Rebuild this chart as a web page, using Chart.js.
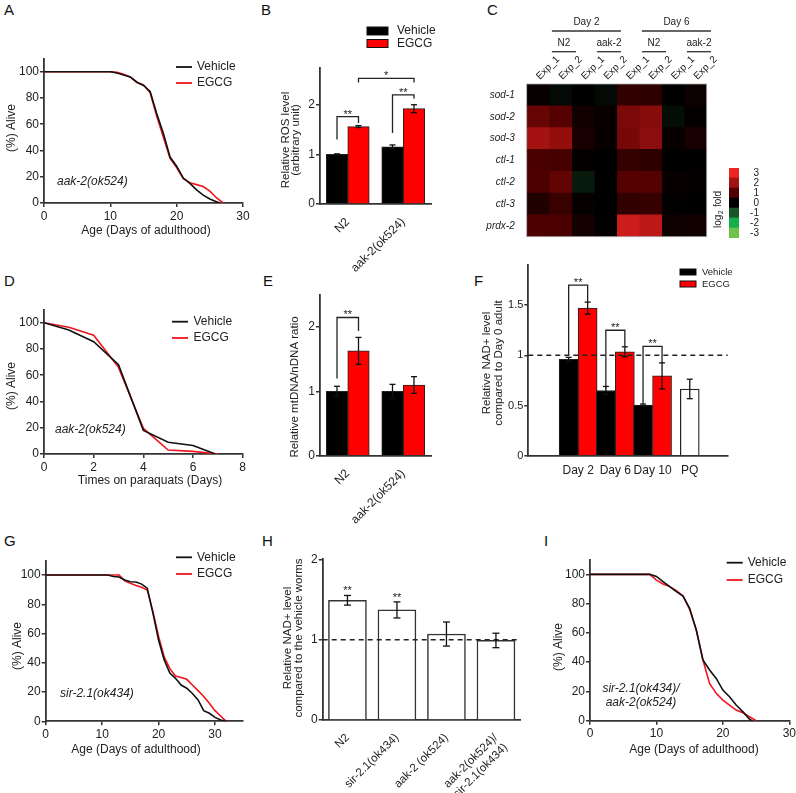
<!DOCTYPE html>
<html><head><meta charset="utf-8">
<script src="https://cdn.jsdelivr.net/npm/chart.js@4.4.1/dist/chart.umd.min.js"></script>
<style>
html,body{margin:0;padding:0;background:#fff;width:796px;height:793px;overflow:hidden}
canvas{position:absolute;left:0;top:0}
.lt{position:absolute;font:15px "Liberation Sans",Arial,sans-serif;color:#111;line-height:15px}
</style></head><body>
<div class="lt" style="left:4px;top:2px">A</div>
<div class="lt" style="left:261px;top:2px">B</div>
<div class="lt" style="left:487px;top:2px">C</div>
<div class="lt" style="left:4px;top:273px">D</div>
<div class="lt" style="left:263px;top:273px">E</div>
<div class="lt" style="left:474px;top:273px">F</div>
<div class="lt" style="left:4px;top:533px">G</div>
<div class="lt" style="left:262px;top:533px">H</div>
<div class="lt" style="left:544px;top:533px">I</div>
<canvas id="cA" width="796" height="793"></canvas>
<canvas id="cB" width="796" height="793"></canvas>
<canvas id="cC" width="796" height="793"></canvas>
<canvas id="cCb" width="796" height="793"></canvas>
<canvas id="cD" width="796" height="793"></canvas>
<canvas id="cE" width="796" height="793"></canvas>
<canvas id="cF" width="796" height="793"></canvas>
<canvas id="cG" width="796" height="793"></canvas>
<canvas id="cH" width="796" height="793"></canvas>
<canvas id="cI" width="796" height="793"></canvas>
<script>
// ================= DATA =================
// A: lifespan aak-2(ok524)
const aVehDays   = [0,10,11,12,13,14,15,16,17,18,19,20,21,22,23,24,25,26,26.5];
const aVehAlive  = [100,100,99,97.5,96,92,89.5,85,68,53,35,28,19,15,10,6,3,1,0];
const aEgcgDays  = [0,10,11,12,13,14,15,16,17,18,19,20,21,22,23,24,25,26,27];
const aEgcgAlive = [100,100,99.5,98,96,92,90,84,66,50,34,27,18.5,15.5,14,12.5,9,4,0];
const survYTicks = [0,20,40,60,80,100];
const ageTicks = [0,10,20,30];

// B: ROS level
const bCats = ['N2','aak-2(ok524)'];
const bVehicle = [1.00, 1.15];
const bVehicleErr = [0.01, 0.04];
const bEgcg = [1.56, 1.92];
const bEgcgErr = [0.02, 0.08];
const bYTicks = [0,1,2];
const bBrackets = [
  {d1:0,c1:0,d2:1,c2:0,top:1.76,left:1.3,right:1.63,star:'**'},
  {d1:0,c1:1,d2:1,c2:1,top:2.2,left:1.43,right:2.12,star:'**'},
  {d1:1,c1:0,d2:1,c2:1,top:2.53,left:2.45,right:2.45,star:'*'}
];

// C: heatmap log2 fold
const genes = ['sod-1','sod-2','sod-3','ctl-1','ctl-2','ctl-3','prdx-2'];
const expCols = ['Exp_1','Exp_2','Exp_1','Exp_2','Exp_1','Exp_2','Exp_1','Exp_2'];
const strainGroups = ['N2','aak-2','N2','aak-2'];
const dayGroups = ['Day 2','Day 6'];
const sod1  = [0.1,-0.1,0.0,-0.1,0.6,0.55,0.0,0.15];
const sod2  = [1.25,1.05,0.2,0.1,1.5,1.65,-0.15,0.05];
const sod3  = [2.0,1.8,0.3,0.1,1.45,1.7,0.1,0.3];
const ctl1  = [0.9,0.85,0.05,0.0,0.65,0.55,0.0,0.0];
const ctl2  = [0.95,1.2,-0.3,0.0,1.05,1.05,0.1,0.05];
const ctl3  = [0.4,0.7,0.08,0.0,0.6,0.65,0.02,0.0];
const prdx2 = [0.95,0.9,0.25,0.02,2.55,2.35,0.15,0.2];
const colorbarVals = [3,2,1,0,-1,-2,-3];

// D: paraquat survival
const dVehDays   = [0,1,2,3,4,5,6,6.9];
const dVehAlive  = [100,94.5,85.5,68,18,9,6.5,0];
const dEgcgDays  = [0,1,2,3,4,5,6,7];
const dEgcgAlive = [100,96.5,90.5,66,19.5,3,2,0];
const pqTicks = [0,2,4,6,8];

// E: mtDNA/nDNA
const eCats = ['N2','aak-2(ok524)'];
const eVehicle = [1.0, 1.0];
const eVehicleErr = [0.08, 0.11];
const eEgcg = [1.63, 1.1];
const eEgcgErr = [0.21, 0.13];
const eYTicks = [0,1,2];
const eBrackets = [{d1:0,c1:0,d2:1,c2:0,top:2.15,left:1.2,right:1.94,star:'**'}];

// F: NAD+ vs Day 0
const fCats = ['Day 2','Day 6','Day 10','PQ'];
const fPos = [0,1,2,3];
const fVehicle = [0.96,0.65,0.505,null];
const fVehicleErr = [0.02,0.04,0.01,null];
const fEgcg = [1.47,1.035,0.795,null];
const fEgcgErr = [0.06,0.05,0.13,null];
const fPQ = [null,null,null,0.665];
const fPQErr = [null,null,null,0.097];
const fYTicks = [0,0.5,1,1.5];
const fBrackets = [
  {d1:0,c1:0,d2:1,c2:0,top:1.70,left:1.0,right:1.53,star:'**'},
  {d1:0,c1:1,d2:1,c2:1,top:1.25,left:0.67,right:1.09,star:'**'},
  {d1:0,c1:2,d2:1,c2:2,top:1.09,left:0.52,right:0.92,star:'**'}
];

// G: lifespan sir-2.1(ok434)
const gVehDays   = [0,11,12,13,14,15,16,17,18,19,20,21,22,23,24,25,26,27,28,29,30,31,32];
const gVehAlive  = [100,100,99,98.6,96.6,95.4,95.2,93.8,91,74,55.6,42,33,29.4,24.8,22.6,19,14.6,7.3,5.5,2.7,0.9,0];
const gEgcgDays  = [0,13,14,15,16,17,18,19,20,21,22,23,24,25,26,27,28,29,30,31,32];
const gEgcgAlive = [100,100,96,94.3,92.9,91.6,89.7,75,58,44,36,31,30,28.7,24.8,21,17,12.3,7.3,3.6,0];
const gAgeTicks = [0,10,20,30];

// H: NAD+ vs vehicle
const hCats = ['N2','sir-2.1(ok434)','aak-2 (ok524)',['aak-2(ok524)/','sir-2.1(ok434)']];
const hRatio = [1.49,1.37,1.07,0.99];
const hRatioErr = [0.06,0.1,0.15,0.09];
const hStars = ['**','**','',''];
const hYTicks = [0,1,2];

// I: lifespan double mutant
const iVehDays   = [0,9,10,11,12,13,14,15,16,17,18,19,20,21,22,23,24,24.4];
const iVehAlive  = [100,100,98.6,95,91.6,88.2,85.2,76.8,62,41.5,34.6,28.9,20.9,16.4,10.7,6.2,1,0];
const iEgcgDays  = [0,9,10,11,12,13,14,15,16,17,18,19,20,21,22,23,24,25];
const iEgcgAlive = [100,100,96,93.4,91.6,88.8,85.2,76,62,41.5,25.5,18.7,14.1,10.7,7.3,5.5,2.7,0];

// ================= HELPERS =================
const FONT = '"Liberation Sans", Arial, Helvetica, sans-serif';
const AX = '#333', TXT = '#222', RED = '#ff0000', LRED = '#f0141e';
const PW = 796, PH = 793;
Chart.defaults.font.family = FONT;
Chart.defaults.color = TXT;

function pad(r, wy, hx, wyr) {
  return {left: r.L - wy, top: r.T, right: PW - r.R - (wyr || 0), bottom: PH - r.B - hx};
}
function yLin(min, max, ticks, size, wy) {
  return {type:'linear', min, max,
    afterBuildTicks: s => { s.ticks = ticks.map(v => ({value: v})); },
    afterFit: s => { s.width = wy || 40; s.paddingTop = 0; s.paddingBottom = 0; },
    border: {display:true, color:AX, width:1.8},
    grid: {display:true, drawOnChartArea:false, drawTicks:true, tickLength:4, color:AX, lineWidth:1.5},
    ticks: {font:{size:size || 12}, color:TXT, padding:1, autoSkip:false, callback: v => String(v)}};
}
function xLin(min, max, ticks, o) {
  o = o || {};
  return {type:'linear', min, max,
    afterBuildTicks: s => { s.ticks = ticks.map(v => ({value: v})); },
    afterFit: s => { s.height = o.h || 24; s.paddingLeft = 0; s.paddingRight = 0; },
    border: {display:true, color:AX, width:1.8},
    grid: {display: !o.noTicks, drawOnChartArea:false, drawTicks:true, tickLength:4, color:AX, lineWidth:1.5},
    ticks: {font:{size:o.size || 12}, color:TXT, padding:o.padding || 2, maxRotation:0, minRotation:0, autoSkip:false,
      callback: o.cb || (v => String(v))}};
}
function xCat(rot, size, h) {
  return {type:'category',
    afterFit: s => { s.height = h; s.paddingLeft = 0; s.paddingRight = 0; },
    border: {display:true, color:AX, width:1.8},
    grid: {display:false},
    ticks: {font:{size:size || 12}, color:TXT, padding:3, minRotation:rot, maxRotation:rot, autoSkip:false}};
}
function opts(padding, scales, extra) {
  return Object.assign({responsive:false, animation:false, events:[], layout:{padding}, scales,
    plugins:{legend:{display:false}, tooltip:{enabled:false}}}, extra || {});
}
function txt(ctx, s, x, y, o) {
  o = o || {};
  ctx.save();
  ctx.font = (o.italic ? 'italic ' : '') + (o.size || 12) + 'px ' + FONT;
  ctx.fillStyle = o.color || TXT;
  ctx.textAlign = o.align || 'left';
  ctx.textBaseline = o.base || 'middle';
  ctx.translate(x, y);
  if (o.rot) ctx.rotate(o.rot);
  ctx.fillText(s, 0, 0);
  ctx.restore();
}
function seg(ctx, x1, y1, x2, y2, color, w, dash) {
  ctx.save(); ctx.strokeStyle = color || '#222'; ctx.lineWidth = w || 1.2;
  if (dash) ctx.setLineDash(dash);
  ctx.beginPath(); ctx.moveTo(x1, y1); ctx.lineTo(x2, y2); ctx.stroke(); ctx.restore();
}
function vtitle(ctx, s, x, y, size) { txt(ctx, s, x, y, {size: size || 12, align:'center', rot:-Math.PI/2}); }
function legLine(ctx, x1, x2, y, color, label, tx) { seg(ctx, x1, y, x2, y, color, 1.8); txt(ctx, label, tx, y, {size:12}); }
function legBox(ctx, x, y, w, h, color, label, tx, size) {
  ctx.save(); ctx.fillStyle = color; ctx.fillRect(x, y, w, h);
  ctx.strokeStyle = '#111'; ctx.lineWidth = 1; ctx.strokeRect(x, y, w, h); ctx.restore();
  txt(ctx, label, tx, y + h / 2, {size: size});
}
function valOf(d) { return (d && typeof d === 'object') ? d.y : d; }
function drawErr(chart, di, errs, cap) {
  const meta = chart.getDatasetMeta(di), ys = chart.scales.y, ctx = chart.ctx;
  const vals = chart.data.datasets[di].data;
  errs.forEach((e, j) => {
    const v = valOf(vals[j]);
    if (v == null || e == null) return;
    const x = meta.data[j].x, y1 = ys.getPixelForValue(v + e), y2 = ys.getPixelForValue(v - e);
    seg(ctx, x, y1, x, y2, '#111', 1.3);
    seg(ctx, x - cap, y1, x + cap, y1, '#111', 1.3);
    seg(ctx, x - cap, y2, x + cap, y2, '#111', 1.3);
  });
}
function drawBracket(chart, b) {
  const ys = chart.scales.y, ctx = chart.ctx;
  const x1 = chart.getDatasetMeta(b.d1).data[b.c1].x, x2 = chart.getDatasetMeta(b.d2).data[b.c2].x;
  const yt = ys.getPixelForValue(b.top), yl = ys.getPixelForValue(b.left), yr = ys.getPixelForValue(b.right);
  ctx.save(); ctx.strokeStyle = '#222'; ctx.lineWidth = 1.3;
  ctx.beginPath(); ctx.moveTo(x1, yl); ctx.lineTo(x1, yt); ctx.lineTo(x2, yt); ctx.lineTo(x2, yr); ctx.stroke(); ctx.restore();
  txt(ctx, b.star, (x1 + x2) / 2, yt + 1, {size:11, align:'center', base:'alphabetic'});
}
function pts(xs, ys) { return xs.map((x, i) => ({x, y: ys[i]})); }
function mkSurv(id, r, xmax, xticks, vx, vy, ex, ey, deco) {
  return new Chart(document.getElementById(id), {type:'line',
    data:{datasets:[
      {data: pts(vx, vy), borderColor:'#111', borderWidth:1.6, pointRadius:0, tension:0, fill:false},
      {data: pts(ex, ey), borderColor:LRED, borderWidth:1.6, pointRadius:0, tension:0, fill:false}]},
    options: opts(pad(r, 40, 24), {x: xLin(0, xmax, xticks), y: yLin(0, 110, survYTicks)}),
    plugins:[{id:'deco', afterDraw: c => deco(c, c.ctx)}]});
}
function mkPairBars(id, r, cats, veh, vehErr, egcg, egcgErr, ymax, yticks, thick, brackets, deco) {
  return new Chart(document.getElementById(id), {type:'bar',
    data:{labels:cats, datasets:[
      {data: veh, backgroundColor:'#000', borderColor:'#222', borderWidth:1, barThickness:thick},
      {data: egcg, backgroundColor:RED, borderColor:'#222', borderWidth:1, barThickness:thick}]},
    options: opts(pad(r, 40, 90), {x: xCat(45, 12, 90), y: yLin(0, ymax, yticks)}),
    plugins:[{id:'deco', afterDraw: c => {
      drawErr(c, 0, vehErr, 3); drawErr(c, 1, egcgErr, 3);
      brackets.forEach(b => drawBracket(c, b));
      deco(c, c.ctx);
    }}]});
}

// ================= PANEL A =================
mkSurv('cA', {L:44, T:58.6, R:243, B:203}, 30, ageTicks, aVehDays, aVehAlive, aEgcgDays, aEgcgAlive, (c, ctx) => {
  legLine(ctx, 176, 192, 67, '#111', 'Vehicle', 197);
  legLine(ctx, 176, 192, 83, LRED, 'EGCG', 197);
  txt(ctx, 'aak-2(ok524)', 57, 182, {italic:true});
  vtitle(ctx, '(%) Alive', 12, 128);
  txt(ctx, 'Age (Days of adulthood)', 146, 231, {align:'center'});
});

// ================= PANEL B =================
mkPairBars('cB', {L:320, T:68, R:431, B:204}, bCats, bVehicle, bVehicleErr, bEgcg, bEgcgErr, 2.74, bYTicks, 21.5, bBrackets, (c, ctx) => {
  legBox(ctx, 367, 27, 21, 8, '#000', 'Vehicle', 397, 12);
  legBox(ctx, 367, 39.5, 21, 8, RED, 'EGCG', 397, 12);
  vtitle(ctx, 'Relative ROS level', 286, 140, 11.5);
  vtitle(ctx, '(arbitrary unit)', 296, 140, 11.5);
});

// ================= PANEL C (heatmap) =================
const heat = [sod1, sod2, sod3, ctl1, ctl2, ctl3, prdx2];
function heatColor(v) {
  if (v >= 0) {
    const r = v <= 2 ? 82 * v : 164 + 72 * (v - 2);
    const gb = Math.max(0, v - 1) * 18;
    return 'rgb(' + Math.round(Math.min(r, 245)) + ',' + Math.round(gb) + ',' + Math.round(gb) + ')';
  }
  const a = -v;
  let c;
  if (a <= 1) c = [25 * a, 85 * a, 40 * a];
  else if (a <= 2) c = [25 - 5 * (a - 1), 85 + 90 * (a - 1), 40 + 35 * (a - 1)];
  else c = [20 + 90 * (a - 2), 175 + 20 * (a - 2), 75];
  return 'rgb(' + c.map(Math.round).join(',') + ')';
}
const hmRect = {L:526.7, T:84, R:706.7, B:236.7};
new Chart(document.getElementById('cC'), {type:'bar',
  data:{labels: genes, datasets: expCols.map((col, j) => ({
    data: genes.map(() => 1),
    backgroundColor: heat.map(row => heatColor(row[j])),
    borderWidth:0, barPercentage:1, categoryPercentage:1}))},
  options: opts(pad(hmRect, 60, 0), {
    x:{type:'linear', stacked:true, min:0, max:8, display:false},
    y:{type:'category', stacked:true, offset:true, grid:{display:false}, border:{display:false},
       afterFit: s => { s.width = 60; s.paddingTop = 0; s.paddingBottom = 0; },
       ticks:{font:{size:10, style:'italic'}, color:TXT, padding:4, autoSkip:false}}
  }, {indexAxis:'y'}),
  plugins:[{id:'deco', afterDraw: c => {
    const ctx = c.ctx, xs = c.scales.x, a = c.chartArea;
    ctx.save(); ctx.strokeStyle = '#aaa'; ctx.lineWidth = 0.8; ctx.strokeRect(a.left, a.top, a.right - a.left, a.bottom - a.top); ctx.restore();
    expCols.forEach((s, j) => txt(ctx, s, xs.getPixelForValue(j + 0.5), a.top - 6, {size:10, rot:-Math.PI/4}));
    strainGroups.forEach((g, k) => {
      const x1 = xs.getPixelForValue(2 * k + 1.12), x2 = xs.getPixelForValue(2 * k + 2.19);
      seg(ctx, x1, 51.7, x2, 51.7, '#333', 1.3);
      txt(ctx, g, (x1 + x2) / 2, 43, {size:10, align:'center'});
    });
    dayGroups.forEach((g, k) => {
      const x1 = xs.getPixelForValue(4 * k + 1.12), x2 = xs.getPixelForValue(4 * k + 4.19);
      seg(ctx, x1, 31, x2, 31, '#333', 1.3);
      txt(ctx, g, (x1 + x2) / 2, 22.5, {size:10, align:'center'});
    });
  }}]});
// colorbar
const cbRect = {L:729, T:168, R:739, B:238};
new Chart(document.getElementById('cCb'), {type:'bar',
  data:{labels: colorbarVals.map(String), datasets:[{data: colorbarVals.map(() => 1),
    backgroundColor: colorbarVals.map(heatColor), borderWidth:0, barPercentage:1, categoryPercentage:1}]},
  options: opts({left: cbRect.L, top: cbRect.T, right: PW - cbRect.R - 20, bottom: PH - cbRect.B}, {
    x:{type:'linear', min:0, max:1, display:false},
    y:{type:'category', position:'right', offset:true, grid:{display:false}, border:{display:false},
       afterFit: s => { s.width = 20; s.paddingTop = 0; s.paddingBottom = 0; },
       ticks:{font:{size:10}, color:TXT, padding:1.5, crossAlign:'far', autoSkip:false}}
  }, {indexAxis:'y'}),
  plugins:[{id:'deco', afterDraw: c => {
    const ctx = c.ctx;
    ctx.save(); ctx.translate(718.5, 228); ctx.rotate(-Math.PI / 2);
    ctx.fillStyle = TXT; ctx.textBaseline = 'middle'; ctx.textAlign = 'left';
    ctx.font = '10px ' + FONT; ctx.fillText('log', 0, 0);
    const w1 = ctx.measureText('log').width;
    ctx.font = '7px ' + FONT; ctx.fillText('2', w1 + 0.5, 3);
    const w2 = ctx.measureText('2').width;
    ctx.font = '10px ' + FONT; ctx.fillText(' fold', w1 + w2 + 1, 0);
    ctx.restore();
  }}]});

// ================= PANEL D =================
mkSurv('cD', {L:44, T:309.6, R:242.7, B:454}, 8, pqTicks, dVehDays, dVehAlive, dEgcgDays, dEgcgAlive, (c, ctx) => {
  legLine(ctx, 172, 188, 321.7, '#111', 'Vehicle', 193.5);
  legLine(ctx, 172, 188, 338, LRED, 'EGCG', 193.5);
  txt(ctx, 'aak-2(ok524)', 55, 430, {italic:true});
  vtitle(ctx, '(%) Alive', 12, 386);
  txt(ctx, 'Times on paraquats (Days)', 150, 481, {align:'center'});
});

// ================= PANEL E =================
mkPairBars('cE', {L:320, T:295, R:431, B:455.7}, eCats, eVehicle, eVehicleErr, eEgcg, eEgcgErr, 2.5, eYTicks, 21.5, eBrackets, (c, ctx) => {
  vtitle(ctx, 'Relative mtDNA/nDNA ratio', 295, 387, 11.5);
});

// ================= PANEL F =================
const fRect = {L:528.3, T:265, R:727.7, B:455.7};
new Chart(document.getElementById('cF'), {type:'bar',
  data:{datasets:[
    {data: pts(fPos, fVehicle), backgroundColor:'#000', borderColor:'#222', borderWidth:1, barThickness:19, skipNull:true},
    {data: pts(fPos, fEgcg), backgroundColor:RED, borderColor:'#222', borderWidth:1, barThickness:19, skipNull:true},
    {data: pts(fPos, fPQ), backgroundColor:'#fff', borderColor:'#222', borderWidth:1.3, barThickness:19, skipNull:true}]},
  options: opts(pad(fRect, 40, 30), {
    x: xLin(-0.67, 3.35, fPos, {noTicks:true, size:12, padding:4, h:30, cb: v => fCats[v]}),
    y: yLin(0, 1.9, fYTicks, 11)}),
  plugins:[{id:'deco', afterDraw: c => {
    const ctx = c.ctx, a = c.chartArea, y1 = c.scales.y.getPixelForValue(1);
    seg(ctx, a.left, y1, a.right, y1, '#222', 1.5, [5, 4]);
    drawErr(c, 0, fVehicleErr, 3); drawErr(c, 1, fEgcgErr, 3); drawErr(c, 2, fPQErr, 3);
    fBrackets.forEach(b => drawBracket(c, b));
    legBox(ctx, 680, 269, 16, 6, '#000', 'Vehicle', 702, 9.5);
    legBox(ctx, 680, 281, 16, 6, RED, 'EGCG', 702, 9.5);
    vtitle(ctx, 'Relative NAD+ level', 487, 363, 11.5);
    vtitle(ctx, 'compared to Day 0 adult', 498.5, 363, 11.5);
  }}]});

// ================= PANEL G =================
mkSurv('cG', {L:45.7, T:560.4, R:243.2, B:721.3}, 35, gAgeTicks, gVehDays, gVehAlive, gEgcgDays, gEgcgAlive, (c, ctx) => {
  legLine(ctx, 176, 192, 557.3, '#111', 'Vehicle', 197);
  legLine(ctx, 176, 192, 574, LRED, 'EGCG', 197);
  txt(ctx, 'sir-2.1(ok434)', 60, 694, {italic:true});
  vtitle(ctx, '(%) Alive', 17.5, 646);
  txt(ctx, 'Age (Days of adulthood)', 136, 750, {align:'center'});
});

// ================= PANEL H =================
const hRect = {L:322.7, T:559.3, R:520.7, B:720};
new Chart(document.getElementById('cH'), {type:'bar',
  data:{labels: hCats, datasets:[{data: hRatio, backgroundColor:'#fff', borderColor:'#333', borderWidth:1.5, barThickness:38}]},
  options: opts(pad(hRect, 40, 73), {x: xCat(45, 11.5, 73), y: yLin(0, 2, hYTicks)}),
  plugins:[{id:'deco', afterDraw: c => {
    const ctx = c.ctx, a = c.chartArea, ys = c.scales.y, y1 = ys.getPixelForValue(1);
    seg(ctx, a.left, y1, a.right, y1, '#222', 1.5, [5, 4]);
    drawErr(c, 0, hRatioErr, 3.5);
    const meta = c.getDatasetMeta(0);
    hStars.forEach((s, j) => { if (s) txt(ctx, s, meta.data[j].x, ys.getPixelForValue(hRatio[j] + hRatioErr[j]) - 1, {size:11, align:'center', base:'alphabetic'}); });
    vtitle(ctx, 'Relative NAD+ level', 288, 638, 11.5);
    vtitle(ctx, 'compared to the vehicle worms', 298.5, 638, 11.5);
  }}]});

// ================= PANEL I =================
mkSurv('cI', {L:590, T:559.7, R:789.3, B:720.7}, 30, ageTicks, iVehDays, iVehAlive, iEgcgDays, iEgcgAlive, (c, ctx) => {
  legLine(ctx, 726.7, 742.7, 562.7, '#111', 'Vehicle', 747.7);
  legLine(ctx, 726.7, 742.7, 580, LRED, 'EGCG', 747.7);
  txt(ctx, 'sir-2.1(ok434)/', 641, 688.3, {italic:true, align:'center'});
  txt(ctx, 'aak-2(ok524)', 641, 702.7, {italic:true, align:'center'});
  vtitle(ctx, '(%) Alive', 559, 647);
  txt(ctx, 'Age (Days of adulthood)', 694, 749.5, {align:'center'});
});
</script>
</body></html>
